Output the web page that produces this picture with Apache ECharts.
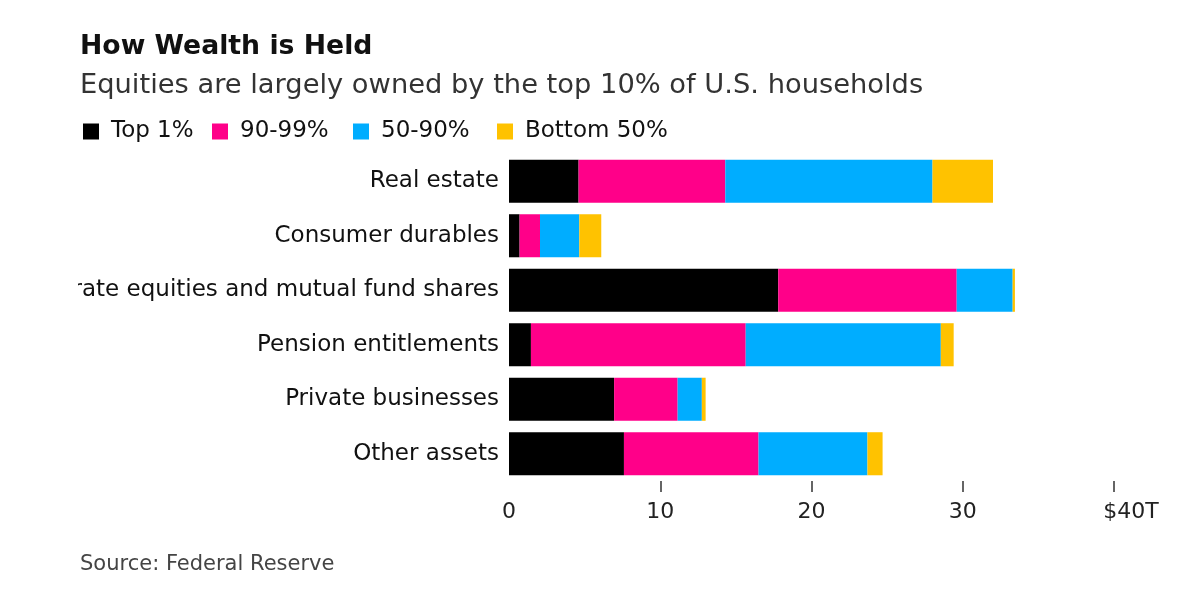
<!DOCTYPE html>
<html>
<head>
<meta charset="utf-8">
<script src="https://cdn.jsdelivr.net/npm/echarts@6/dist/echarts.min.js"></script>
<style>
html,body{margin:0;padding:0;background:#fff;width:1200px;height:600px;overflow:hidden;}
#chart{position:absolute;left:78px;top:0;width:1122px;height:600px;}
</style>
</head>
<body>
<div id="chart"></div>
<script>
const categories = ["Real estate", "Consumer durables", "Corporate equities and mutual fund shares", "Pension entitlements", "Private businesses", "Other assets"];
const seriesNames = ["Top 1%", "90-99%", "50-90%", "Bottom 50%"];
const top1 = [4.6, 0.7, 17.8, 1.45, 6.95, 7.6];
const p90to99 = [9.7, 1.35, 11.8, 14.2, 4.2, 8.9];
const p50to90 = [13.7, 2.6, 3.7, 12.9, 1.6, 7.2];
const bottom50 = [4.0, 1.45, 0.15, 0.85, 0.25, 1.0];
const tickValues = [10, 20, 30, 40];
const colors = ["#000000", "#FF0089", "#00ADFF", "#FFC200"];

const seriesData = [top1, p90to99, p50to90, bottom50];
const font = "DejaVu Sans, Verdana, sans-serif";
const legendLefts = [5, 134, 275, 419];

const chart = echarts.init(document.getElementById('chart'));
chart.setOption({
  animation: false,
  color: colors,
  title: [
    {text: "How Wealth is Held", left: 2, top: 34, padding: 0, textStyle: {fontFamily: font, fontSize: 26.7, fontWeight: 'bold', color: '#111'}},
    {text: "Equities are largely owned by the top 10% of U.S. households", left: 2, top: 72, padding: 0, textStyle: {fontFamily: font, fontSize: 27.3, fontWeight: 'normal', color: '#333'}},
    {text: "Source: Federal Reserve", left: 2, top: 554, padding: 0, textStyle: {fontFamily: font, fontSize: 21, fontWeight: 'normal', color: '#444'}}
  ],
  legend: seriesNames.map((n, i) => ({
    left: legendLefts[i], top: 120, padding: 0, icon: 'rect', itemWidth: 16, itemHeight: 16,
    textStyle: {fontFamily: font, fontSize: 23, color: '#111', padding: [0, 0, 0, 7]},
    data: [n]
  })),
  grid: {left: 431, right: 86, top: 154, bottom: 119, containLabel: false, outerBoundsMode: 'none'},
  xAxis: {
    type: 'value', min: 0, max: 40, interval: 10,
    splitLine: {show: false},
    axisLine: {show: false},
    axisTick: {show: true, length: 11, customValues: tickValues, lineStyle: {color: '#333', width: 1.5}},
    axisLabel: {fontFamily: font, fontSize: 22, color: '#222', margin: 20,
      formatter: v => v === 40 ? '{last|$40T}' : String(v),
      rich: {last: {fontFamily: font, fontSize: 22, color: '#222', padding: [0, 0, 0, 34]}}}
  },
  yAxis: {
    type: 'category', data: categories, inverse: true,
    axisLine: {show: false}, axisTick: {show: false},
    axisLabel: {fontFamily: font, fontSize: 23, color: '#111', margin: 10}
  },
  series: seriesNames.map((n, i) => ({
    name: n, type: 'bar', stack: 'total', data: seriesData[i],
    barCategoryGap: '21%', itemStyle: {color: colors[i]}
  }))
});
</script>
</body>
</html>
